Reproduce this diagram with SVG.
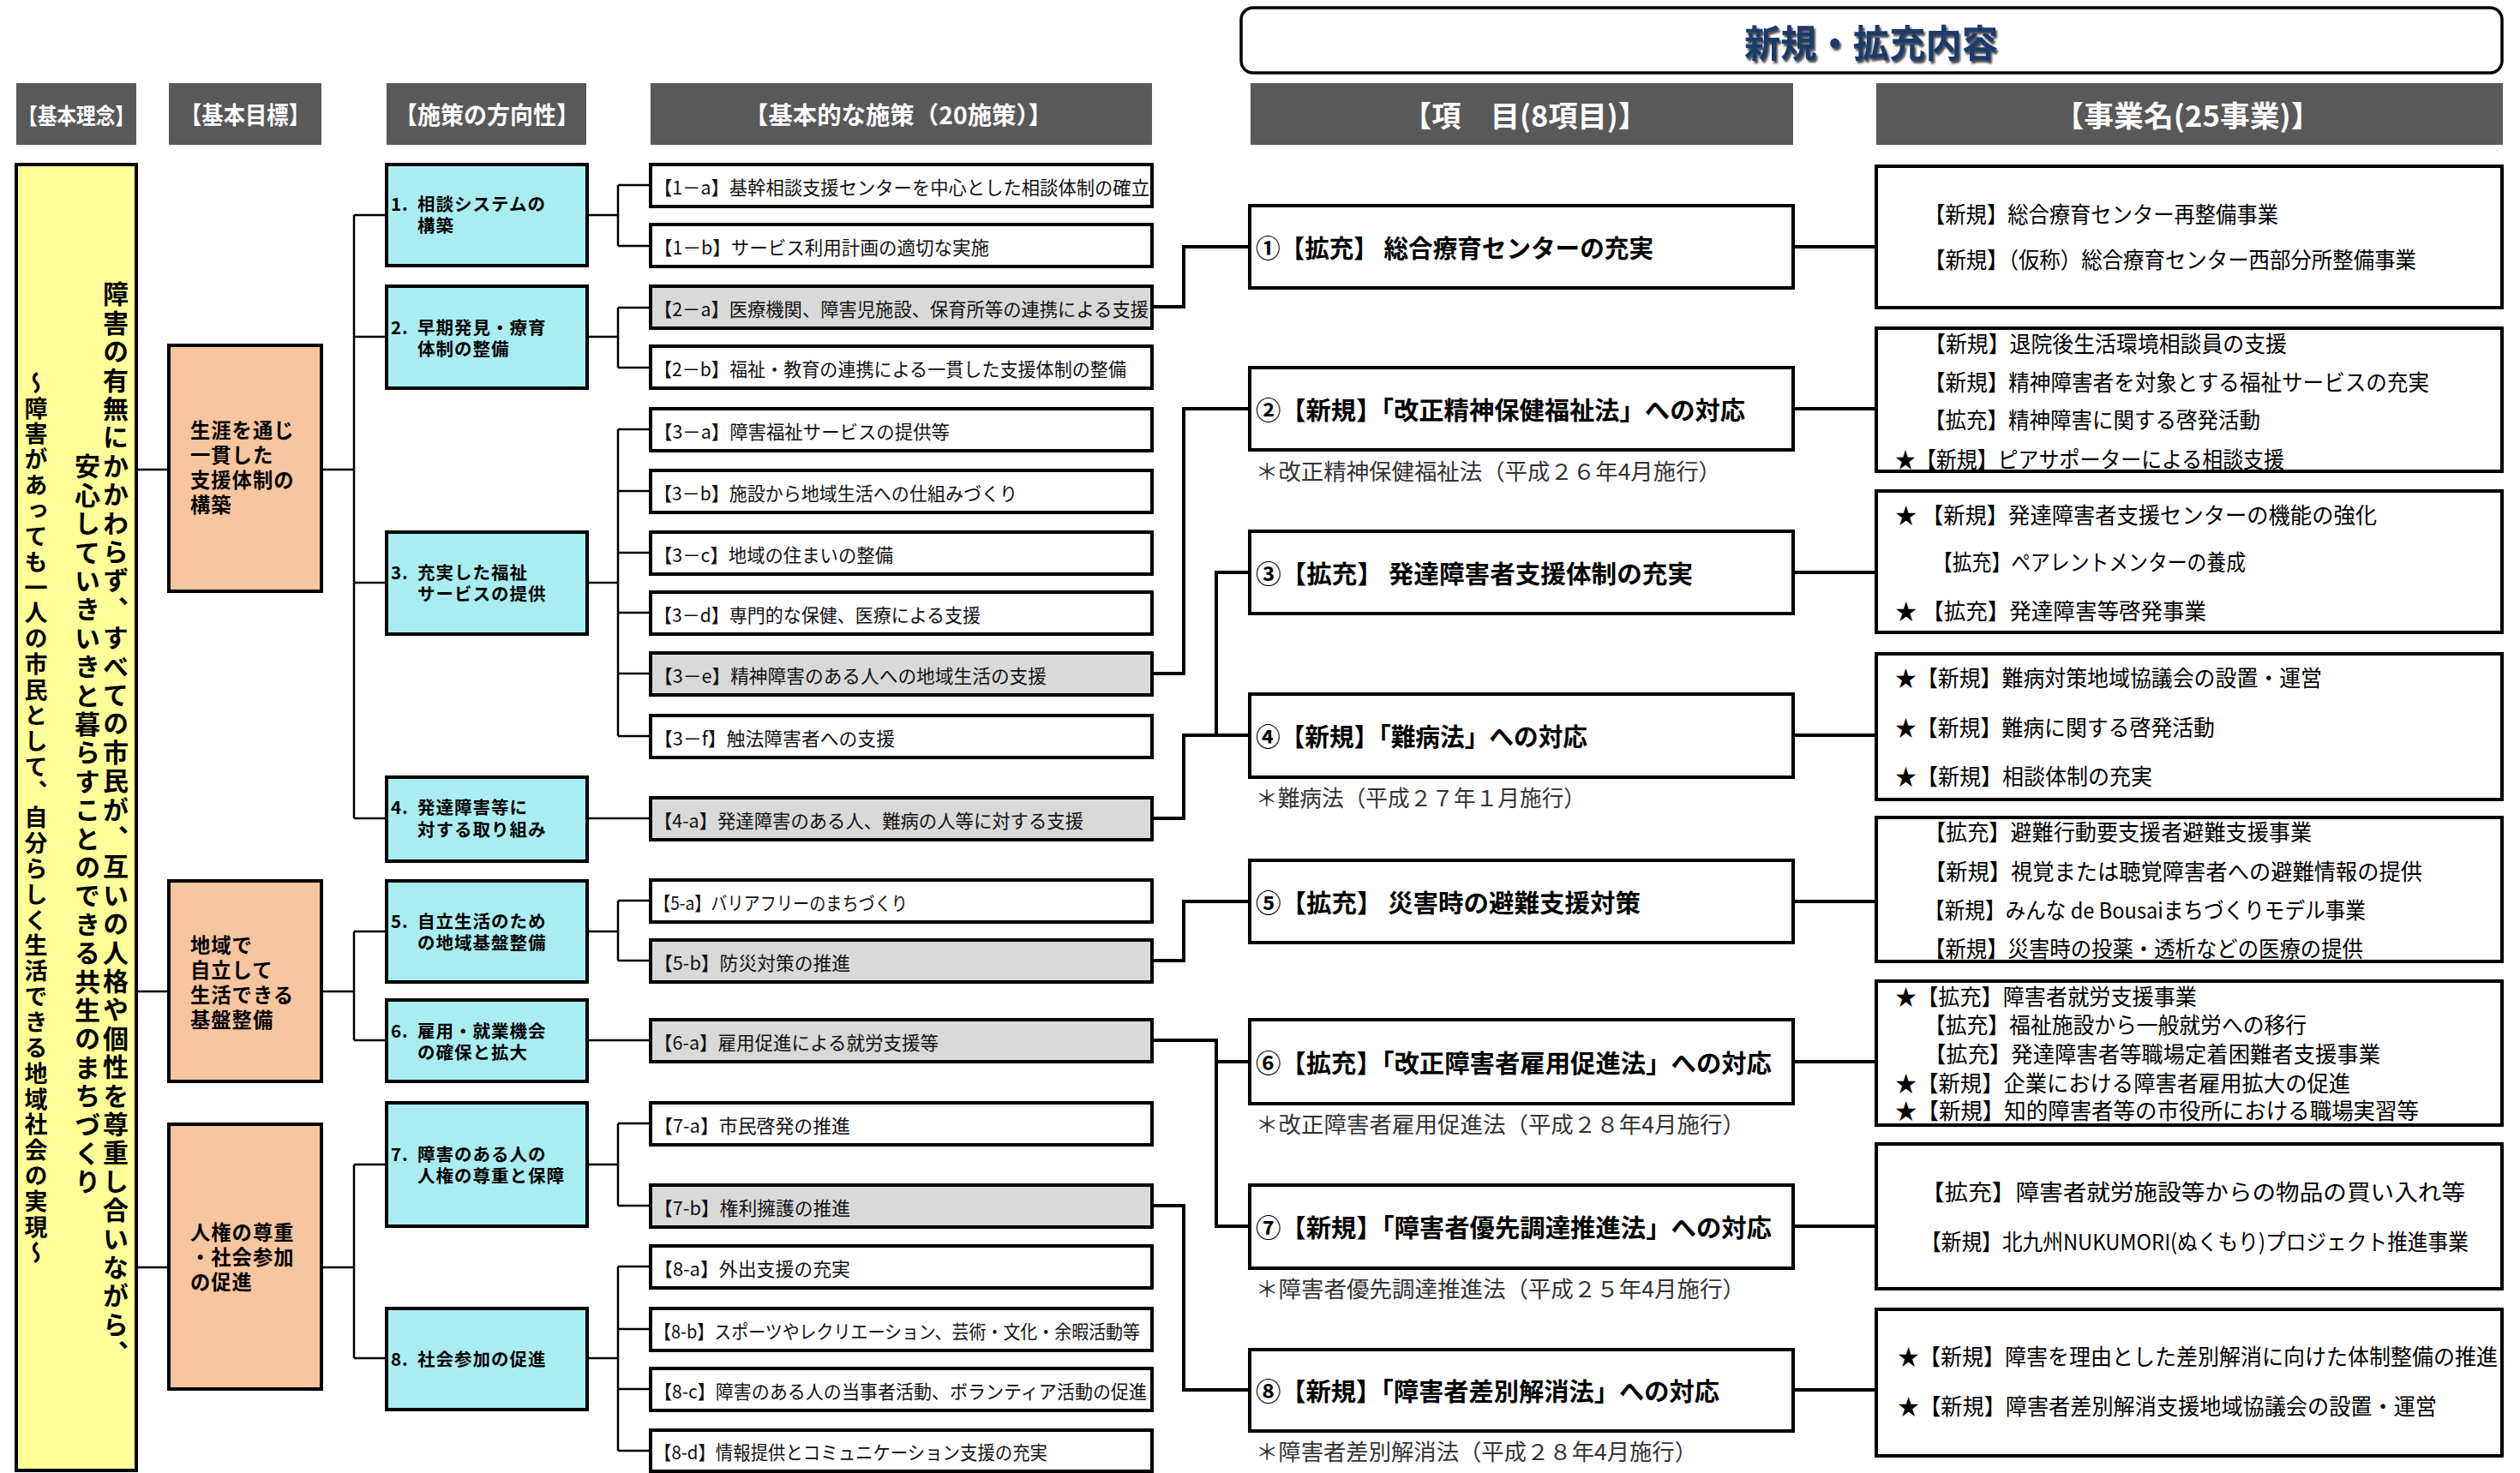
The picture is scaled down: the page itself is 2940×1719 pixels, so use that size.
<svg xmlns="http://www.w3.org/2000/svg" width="2940" height="1719" viewBox="0 0 2940 1719">
<defs>
<style>
text{font-family:"Noto Sans CJK JP","Noto Sans",sans-serif;}
.hdr{fill:#595959;}
.ht{fill:#fff;font-weight:bold;dominant-baseline:central;text-anchor:middle;}
.box{stroke:#000;stroke-width:4;}
.blue{fill:#a9edf1;}
.org{fill:#f7c59f;}
.yel{fill:#ffff99;}
.wh{fill:#fff;}
.gr{fill:#d9d9d9;}
.t4{font-size:22px;fill:#111;dominant-baseline:central;}
.tb{font-size:20.5px;letter-spacing:1px;font-weight:bold;fill:#000;dominant-baseline:central;}
.to{font-size:23.3px;letter-spacing:1px;font-weight:bold;fill:#000;dominant-baseline:central;}
.t5{font-size:29px;font-weight:bold;fill:#000;dominant-baseline:central;}
.fn{font-size:26px;fill:#333;dominant-baseline:central;}
.t6{font-size:26px;fill:#000;dominant-baseline:central;}
.c1{fill:none;stroke:#000;stroke-width:2.5;}
.c2{fill:none;stroke:#000;stroke-width:4;}
.vt{writing-mode:vertical-rl;font-weight:bold;fill:#000;}
</style>
<filter id="sh" x="-10%" y="-30%" width="120%" height="160%"><feDropShadow dx="2" dy="3" stdDeviation="1" flood-color="#000" flood-opacity="0.7"/></filter>
</defs>
<rect x="0" y="0" width="2940" height="1719" fill="#fff"/>

<g id="title">
<rect x="1448" y="9" width="1471" height="76" rx="14" fill="#fff" stroke="#000" stroke-width="3.5"/>
<text x="2183" y="48" font-size="44" font-weight="bold" fill="#1b3a6b" text-anchor="middle" dominant-baseline="central" textLength="296" lengthAdjust="spacingAndGlyphs" filter="url(#sh)">新規・拡充内容</text>
</g>

<g id="headers">
<rect class="hdr" x="19" y="97" width="140" height="72"/>
<text class="ht" x="89" y="133" font-size="26" textLength="136" lengthAdjust="spacingAndGlyphs">【基本理念】</text>
<rect class="hdr" x="197" y="97" width="178" height="72"/>
<text class="ht" x="286" y="133" font-size="28" textLength="152" lengthAdjust="spacingAndGlyphs">【基本目標】</text>
<rect class="hdr" x="451" y="97" width="233" height="72"/>
<text class="ht" x="568" y="133" font-size="28" textLength="216" lengthAdjust="spacingAndGlyphs">【施策の方向性】</text>
<rect class="hdr" x="759" y="97" width="585" height="72"/>
<text class="ht" x="1048" y="133" font-size="28" textLength="360" lengthAdjust="spacingAndGlyphs">【基本的な施策（20施策）】</text>
<rect class="hdr" x="1459" y="97" width="633" height="72"/>
<text class="ht" x="1779" y="133" font-size="34" textLength="286" lengthAdjust="spacingAndGlyphs">【項　目(8項目)】</text>
<rect class="hdr" x="2189" y="97" width="731" height="72"/>
<text class="ht" x="2552" y="133" font-size="34" textLength="311" lengthAdjust="spacingAndGlyphs">【事業名(25事業)】</text>
</g>

<g id="connectors">
<path class="c1" d="M159,548H197 M375,548H413 M413,251V955 M413,251H451 M413,393H451 M413,680H451 M413,955H451 M159,1157H197 M375,1157H413 M413,1087V1214 M413,1087H451 M413,1214H451 M159,1479H197 M375,1479H413 M413,1359V1585 M413,1359H451 M413,1585H451"/>
<path class="c1" d="M685,251H721 M721,216V287 M721,216H759 M721,287H759 M685,393H721 M721,359V429 M721,359H759 M721,429H759 M685,680H721 M721,501V859 M721,501H759 M721,573H759 M721,645H759 M721,715H759 M721,786H759 M721,859H759 M685,955H759 M685,1087H721 M721,1051V1121 M721,1051H759 M721,1121H759 M685,1214H759 M685,1359H721 M721,1311V1407 M721,1311H759 M721,1407H759 M685,1585H721 M721,1478V1693 M721,1478H759 M721,1551H759 M721,1621H759 M721,1693H759"/>
<path class="c2" d="M1344,358H1381V288H1458 M1344,786H1381V477H1458 M1344,955H1381V858H1458 M1419,858V668H1458 M1344,1121H1381V1052H1458 M1344,1214H1419V1431H1458 M1419,1239H1458 M1344,1407H1381V1622H1458"/>
<path class="c2" d="M2092,288H2189 M2092,477H2189 M2092,668H2189 M2092,858H2189 M2092,1052H2189 M2092,1239H2189 M2092,1431H2189 M2092,1622H2189"/>
</g>

<g id="philosophy">
<rect class="box yel" x="19" y="192" width="140" height="1524"/>
<text class="vt" x="135" y="328" font-size="30" letter-spacing="3.4">障害の有無にかかわらず、すべての市民が、互いの人格や個性を尊重し合いながら、</text>
<text class="vt" x="102" y="529" font-size="30" letter-spacing="3.4">安心していきいきと暮らすことのできる共生のまちづくり</text>
<text class="vt" x="42" y="433" font-size="27" letter-spacing="2.85">～障害があっても一人の市民として、自分らしく生活できる地域社会の実現～</text>
</g>

<g id="goal-1"><rect class="box org" x="197" y="403" width="178" height="287"/>
<text class="to"><tspan x="222" y="501">生涯を通じ</tspan><tspan x="222" y="530">一貫した</tspan><tspan x="222" y="559">支援体制の</tspan><tspan x="222" y="588">構築</tspan></text></g>
<g id="goal-2"><rect class="box org" x="197" y="1028" width="178" height="234"/>
<text class="to"><tspan x="222" y="1102">地域で</tspan><tspan x="222" y="1131">自立して</tspan><tspan x="222" y="1160">生活できる</tspan><tspan x="222" y="1189">基盤整備</tspan></text></g>
<g id="goal-3"><rect class="box org" x="197" y="1312" width="178" height="309"/>
<text class="to"><tspan x="222" y="1437">人権の尊重</tspan><tspan x="222" y="1466">・社会参加</tspan><tspan x="222" y="1495">の促進</tspan></text></g>

<g id="dir-1"><rect class="box blue" x="451" y="192" width="234" height="118"/>
<text class="tb"><tspan x="456" y="237">1.</tspan><tspan x="487" y="237">相談システムの</tspan><tspan x="487" y="262">構築</tspan></text></g>
<g id="dir-2"><rect class="box blue" x="451" y="334" width="234" height="119"/>
<text class="tb"><tspan x="456" y="381">2.</tspan><tspan x="487" y="381">早期発見・療育</tspan><tspan x="487" y="406">体制の整備</tspan></text></g>
<g id="dir-3"><rect class="box blue" x="451" y="621" width="234" height="119"/>
<text class="tb"><tspan x="456" y="667">3.</tspan><tspan x="487" y="667">充実した福祉</tspan><tspan x="487" y="692">サービスの提供</tspan></text></g>
<g id="dir-4"><rect class="box blue" x="451" y="907" width="234" height="98"/>
<text class="tb"><tspan x="456" y="941">4.</tspan><tspan x="487" y="941">発達障害等に</tspan><tspan x="487" y="967">対する取り組み</tspan></text></g>
<g id="dir-5"><rect class="box blue" x="451" y="1028" width="234" height="118"/>
<text class="tb"><tspan x="456" y="1074">5.</tspan><tspan x="487" y="1074">自立生活のため</tspan><tspan x="487" y="1099">の地域基盤整備</tspan></text></g>
<g id="dir-6"><rect class="box blue" x="451" y="1167" width="234" height="95"/>
<text class="tb"><tspan x="456" y="1202">6.</tspan><tspan x="487" y="1202">雇用・就業機会</tspan><tspan x="487" y="1227">の確保と拡大</tspan></text></g>
<g id="dir-7"><rect class="box blue" x="451" y="1287" width="234" height="144"/>
<text class="tb"><tspan x="456" y="1346">7.</tspan><tspan x="487" y="1346">障害のある人の</tspan><tspan x="487" y="1371">人権の尊重と保障</tspan></text></g>
<g id="dir-8"><rect class="box blue" x="451" y="1527" width="234" height="118"/>
<text class="tb"><tspan x="456" y="1585">8.</tspan><tspan x="487" y="1585">社会参加の促進</tspan></text></g>

<g id="m1a"><rect class="box wh" x="759" y="192" width="585" height="49"/><text class="t4" x="763" y="216.5" textLength="578" lengthAdjust="spacingAndGlyphs">【1－a】基幹相談支援センターを中心とした相談体制の確立</text></g>
<g id="m1b"><rect class="box wh" x="759" y="262" width="585" height="49"/><text class="t4" x="763" y="286.5" textLength="391" lengthAdjust="spacingAndGlyphs">【1－b】サービス利用計画の適切な実施</text></g>
<g id="m2a"><rect class="box gr" x="759" y="334" width="585" height="49"/><text class="t4" x="763" y="358.5" textLength="577" lengthAdjust="spacingAndGlyphs">【2－a】医療機関、障害児施設、保育所等の連携による支援</text></g>
<g id="m2b"><rect class="box wh" x="759" y="404" width="585" height="49"/><text class="t4" x="763" y="428.5" textLength="551" lengthAdjust="spacingAndGlyphs">【2－b】福祉・教育の連携による一貫した支援体制の整備</text></g>
<g id="m3a"><rect class="box wh" x="759" y="477" width="585" height="49"/><text class="t4" x="763" y="501.5" textLength="345" lengthAdjust="spacingAndGlyphs">【3－a】障害福祉サービスの提供等</text></g>
<g id="m3b"><rect class="box wh" x="759" y="549" width="585" height="49"/><text class="t4" x="763" y="573.5" textLength="424" lengthAdjust="spacingAndGlyphs">【3－b】施設から地域生活への仕組みづくり</text></g>
<g id="m3c"><rect class="box wh" x="759" y="621" width="585" height="49"/><text class="t4" x="763" y="645.5" textLength="279" lengthAdjust="spacingAndGlyphs">【3－c】地域の住まいの整備</text></g>
<g id="m3d"><rect class="box wh" x="759" y="691" width="585" height="49"/><text class="t4" x="763" y="715.5" textLength="381" lengthAdjust="spacingAndGlyphs">【3－d】専門的な保健、医療による支援</text></g>
<g id="m3e"><rect class="box gr" x="759" y="762" width="585" height="49"/><text class="t4" x="763" y="786.5" textLength="458" lengthAdjust="spacingAndGlyphs">【3－e】精神障害のある人への地域生活の支援</text></g>
<g id="m3f"><rect class="box wh" x="759" y="835" width="585" height="49"/><text class="t4" x="763" y="859.5" textLength="281" lengthAdjust="spacingAndGlyphs">【3－f】触法障害者への支援</text></g>
<g id="m4a"><rect class="box gr" x="759" y="931" width="585" height="49"/><text class="t4" x="763" y="955.5" textLength="501" lengthAdjust="spacingAndGlyphs">【4-a】発達障害のある人、難病の人等に対する支援</text></g>
<g id="m5a"><rect class="box wh" x="759" y="1027" width="585" height="49"/><text class="t4" x="763" y="1051.5" textLength="296" lengthAdjust="spacingAndGlyphs">【5-a】バリアフリーのまちづくり</text></g>
<g id="m5b"><rect class="box gr" x="759" y="1097" width="585" height="49"/><text class="t4" x="763" y="1121.5" textLength="229" lengthAdjust="spacingAndGlyphs">【5-b】防災対策の推進</text></g>
<g id="m6a"><rect class="box gr" x="759" y="1190" width="585" height="49"/><text class="t4" x="763" y="1214.5" textLength="332" lengthAdjust="spacingAndGlyphs">【6-a】雇用促進による就労支援等</text></g>
<g id="m7a"><rect class="box wh" x="759" y="1287" width="585" height="49"/><text class="t4" x="763" y="1311.5" textLength="229" lengthAdjust="spacingAndGlyphs">【7-a】市民啓発の推進</text></g>
<g id="m7b"><rect class="box gr" x="759" y="1383" width="585" height="49"/><text class="t4" x="763" y="1407.5" textLength="229" lengthAdjust="spacingAndGlyphs">【7-b】権利擁護の推進</text></g>
<g id="m8a"><rect class="box wh" x="759" y="1454" width="585" height="49"/><text class="t4" x="763" y="1478.5" textLength="229" lengthAdjust="spacingAndGlyphs">【8-a】外出支援の充実</text></g>
<g id="m8b"><rect class="box wh" x="759" y="1527" width="585" height="49"/><text class="t4" x="763" y="1551.5" textLength="567" lengthAdjust="spacingAndGlyphs">【8-b】スポーツやレクリエーション、芸術・文化・余暇活動等</text></g>
<g id="m8c"><rect class="box wh" x="759" y="1597" width="585" height="49"/><text class="t4" x="763" y="1621.5" textLength="575" lengthAdjust="spacingAndGlyphs">【8-c】障害のある人の当事者活動、ボランティア活動の促進</text></g>
<g id="m8d"><rect class="box wh" x="759" y="1669" width="585" height="48"/><text class="t4" x="763" y="1693" textLength="459" lengthAdjust="spacingAndGlyphs">【8-d】情報提供とコミュニケーション支援の充実</text></g>

<g id="item-1"><rect class="box wh" x="1458" y="240" width="634" height="96"/><text class="t5" x="1465" y="288" textLength="464" lengthAdjust="spacingAndGlyphs">①【拡充】 総合療育センターの充実</text></g>
<g id="item-2"><rect class="box wh" x="1458" y="429" width="634" height="96"/><text class="t5" x="1465" y="477" textLength="571" lengthAdjust="spacingAndGlyphs">②【新規】「改正精神保健福祉法」への対応</text>
<text class="fn" x="1465" y="548" textLength="543" lengthAdjust="spacingAndGlyphs">＊改正精神保健福祉法（平成２６年4月施行）</text></g>
<g id="item-3"><rect class="box wh" x="1458" y="620" width="634" height="96"/><text class="t5" x="1465" y="668" textLength="510" lengthAdjust="spacingAndGlyphs">③【拡充】 発達障害者支援体制の充実</text></g>
<g id="item-4"><rect class="box wh" x="1458" y="810" width="634" height="97"/><text class="t5" x="1465" y="858" textLength="387" lengthAdjust="spacingAndGlyphs">④【新規】「難病法」への対応</text>
<text class="fn" x="1465" y="929" textLength="385" lengthAdjust="spacingAndGlyphs">＊難病法（平成２７年１月施行）</text></g>
<g id="item-5"><rect class="box wh" x="1458" y="1004" width="634" height="96"/><text class="t5" x="1465" y="1052" textLength="449" lengthAdjust="spacingAndGlyphs">⑤【拡充】 災害時の避難支援対策</text></g>
<g id="item-6"><rect class="box wh" x="1458" y="1190" width="634" height="98"/><text class="t5" x="1465" y="1239" textLength="602" lengthAdjust="spacingAndGlyphs">⑥【拡充】「改正障害者雇用促進法」への対応</text>
<text class="fn" x="1465" y="1310" textLength="571" lengthAdjust="spacingAndGlyphs">＊改正障害者雇用促進法（平成２８年4月施行）</text></g>
<g id="item-7"><rect class="box wh" x="1458" y="1383" width="634" height="97"/><text class="t5" x="1465" y="1431" textLength="602" lengthAdjust="spacingAndGlyphs">⑦【新規】「障害者優先調達推進法」への対応</text>
<text class="fn" x="1465" y="1502" textLength="571" lengthAdjust="spacingAndGlyphs">＊障害者優先調達推進法（平成２５年4月施行）</text></g>
<g id="item-8"><rect class="box wh" x="1458" y="1575" width="634" height="95"/><text class="t5" x="1465" y="1622" textLength="541" lengthAdjust="spacingAndGlyphs">⑧【新規】「障害者差別解消法」への対応</text>
<text class="fn" x="1465" y="1692" textLength="515" lengthAdjust="spacingAndGlyphs">＊障害者差別解消法（平成２８年4月施行）</text></g>

<g id="proj-1"><rect class="box wh" x="2189" y="194" width="730" height="165"/>
<text class="t6" x="2245" y="248" textLength="413" lengthAdjust="spacingAndGlyphs">【新規】総合療育センター再整備事業</text>
<text class="t6" x="2245" y="301" textLength="574" lengthAdjust="spacingAndGlyphs">【新規】（仮称）総合療育センター西部分所整備事業</text></g>
<g id="proj-2"><rect class="box wh" x="2189" y="383" width="730" height="167"/>
<text class="t6" x="2245" y="399" textLength="423" lengthAdjust="spacingAndGlyphs">【新規】退院後生活環境相談員の支援</text>
<text class="t6" x="2245" y="444" textLength="589" lengthAdjust="spacingAndGlyphs">【新規】精神障害者を対象とする福祉サービスの充実</text>
<text class="t6" x="2245" y="488" textLength="392" lengthAdjust="spacingAndGlyphs">【拡充】精神障害に関する啓発活動</text>
<text class="t6" x="2211" y="534" textLength="454" lengthAdjust="spacingAndGlyphs">★【新規】ピアサポーターによる相談支援</text></g>
<g id="proj-3"><rect class="box wh" x="2189" y="573" width="730" height="165"/>
<text class="t6" x="2211" y="599" textLength="562" lengthAdjust="spacingAndGlyphs">★ 【新規】発達障害者支援センターの機能の強化</text>
<text class="t6" x="2255" y="654" textLength="365" lengthAdjust="spacingAndGlyphs">【拡充】ペアレントメンターの養成</text>
<text class="t6" x="2211" y="711" textLength="363" lengthAdjust="spacingAndGlyphs">★ 【拡充】発達障害等啓発事業</text></g>
<g id="proj-4"><rect class="box wh" x="2189" y="763" width="730" height="170"/>
<text class="t6" x="2211" y="789" textLength="498" lengthAdjust="spacingAndGlyphs">★【新規】難病対策地域協議会の設置・運営</text>
<text class="t6" x="2211" y="847" textLength="373" lengthAdjust="spacingAndGlyphs">★【新規】難病に関する啓発活動</text>
<text class="t6" x="2211" y="904" textLength="300" lengthAdjust="spacingAndGlyphs">★【新規】相談体制の充実</text></g>
<g id="proj-5"><rect class="box wh" x="2189" y="954" width="730" height="168"/>
<text class="t6" x="2245" y="969" textLength="452" lengthAdjust="spacingAndGlyphs">【拡充】避難行動要支援者避難支援事業</text>
<text class="t6" x="2245" y="1015" textLength="581" lengthAdjust="spacingAndGlyphs">【新規】視覚または聴覚障害者への避難情報の提供</text>
<text class="t6" x="2245" y="1060" textLength="515" lengthAdjust="spacingAndGlyphs">【新規】みんな de Bousaiまちづくりモデル事業</text>
<text class="t6" x="2245" y="1105" textLength="512" lengthAdjust="spacingAndGlyphs">【新規】災害時の投薬・透析などの医療の提供</text></g>
<g id="proj-6"><rect class="box wh" x="2189" y="1145" width="730" height="168"/>
<text class="t6" x="2211" y="1161" textLength="352" lengthAdjust="spacingAndGlyphs">★【拡充】障害者就労支援事業</text>
<text class="t6" x="2245" y="1194" textLength="446" lengthAdjust="spacingAndGlyphs">【拡充】福祉施設から一般就労への移行</text>
<text class="t6" x="2245" y="1228" textLength="532" lengthAdjust="spacingAndGlyphs">【拡充】発達障害者等職場定着困難者支援事業</text>
<text class="t6" x="2211" y="1262" textLength="531" lengthAdjust="spacingAndGlyphs">★【新規】企業における障害者雇用拡大の促進</text>
<text class="t6" x="2211" y="1294" textLength="611" lengthAdjust="spacingAndGlyphs">★【新規】知的障害者等の市役所における職場実習等</text></g>
<g id="proj-7"><rect class="box wh" x="2189" y="1335" width="730" height="169"/>
<text class="t6" x="2241" y="1389" textLength="635" lengthAdjust="spacingAndGlyphs">【拡充】障害者就労施設等からの物品の買い入れ等</text>
<text class="t6" x="2241" y="1447" font-size="23" textLength="639" lengthAdjust="spacingAndGlyphs">【新規】北九州NUKUMORI(ぬくもり)プロジェクト推進事業</text></g>
<g id="proj-8"><rect class="box wh" x="2189" y="1528" width="730" height="171"/>
<text class="t6" x="2214" y="1581" textLength="700" lengthAdjust="spacingAndGlyphs">★【新規】障害を理由とした差別解消に向けた体制整備の推進</text>
<text class="t6" x="2214" y="1639" textLength="629" lengthAdjust="spacingAndGlyphs">★【新規】障害者差別解消支援地域協議会の設置・運営</text></g>
</svg>
